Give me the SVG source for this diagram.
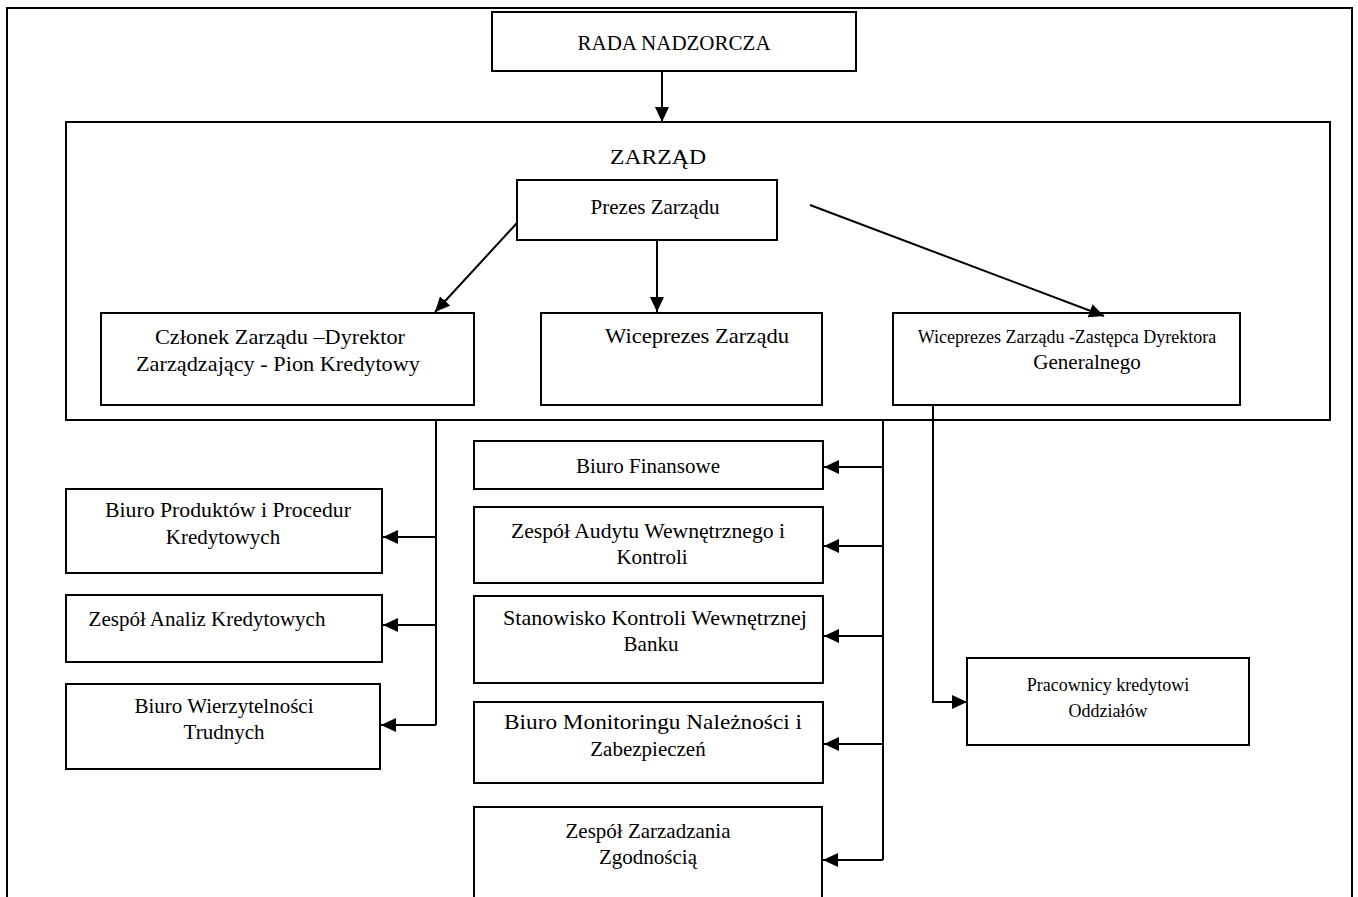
<svg xmlns="http://www.w3.org/2000/svg" width="1358" height="897" viewBox="0 0 1358 897">
<defs>
<marker id="ah" markerUnits="userSpaceOnUse" markerWidth="16" markerHeight="14" refX="15" refY="7" orient="auto">
<path d="M0,0 L15,7 L0,14 Z" fill="#000"/>
</marker>
<style>
.box{fill:#fff;stroke:#000;stroke-width:2}
.frame{fill:none;stroke:#000;stroke-width:2}
.t{font-family:"Liberation Serif","Times New Roman",serif;font-size:21px;fill:#000;text-anchor:middle}
.s{font-size:18px}
.c{fill:none;stroke:#000;stroke-width:2}
.a{fill:none;stroke:#000;stroke-width:2;marker-end:url(#ah)}
</style>
</defs>
<rect width="1358" height="897" fill="#fff"/>
<rect class="frame" x="7" y="8" width="1345" height="900"/>
<g id="zarzad">
<rect class="frame" x="66" y="122" width="1264" height="298"/>
<text class="t" x="658" y="164" textLength="96" lengthAdjust="spacingAndGlyphs">ZARZĄD</text>
</g>
<g id="rada">
<rect class="box" x="492" y="12" width="364" height="59"/>
<text class="t" x="674" y="50">RADA NADZORCZA</text>
</g>
<g id="prezes">
<rect class="box" x="517" y="180" width="260" height="60"/>
<text class="t" x="655" y="214">Prezes Zarządu</text>
</g>
<g id="czlonek">
<rect class="box" x="101" y="313" width="373" height="92"/>
<text class="t" x="280" y="344" textLength="250" lengthAdjust="spacingAndGlyphs">Członek Zarządu –Dyrektor</text>
<text class="t" x="278" y="371" textLength="284" lengthAdjust="spacingAndGlyphs">Zarządzający - Pion Kredytowy</text>
</g>
<g id="wiceprezes">
<rect class="box" x="541" y="313" width="281" height="92"/>
<text class="t" x="697" y="343" textLength="184" lengthAdjust="spacingAndGlyphs">Wiceprezes Zarządu</text>
</g>
<g id="wiceprezes-zastepca">
<rect class="box" x="893" y="313" width="347" height="92"/>
<text class="t s" x="1067" y="343">Wiceprezes Zarządu -Zastępca Dyrektora</text>
<text class="t" x="1087" y="369">Generalnego</text>
</g>
<g id="biuro-produktow">
<rect class="box" x="66" y="489" width="316" height="84"/>
<text class="t" x="228" y="517" textLength="246" lengthAdjust="spacingAndGlyphs">Biuro Produktów i Procedur</text>
<text class="t" x="223" y="544">Kredytowych</text>
</g>
<g id="zespol-analiz">
<rect class="box" x="66" y="595" width="316" height="67"/>
<text class="t" x="207" y="626">Zespół Analiz Kredytowych</text>
</g>
<g id="biuro-wierzytelnosci">
<rect class="box" x="66" y="684" width="314" height="85"/>
<text class="t" x="224" y="713">Biuro Wierzytelności</text>
<text class="t" x="224" y="739">Trudnych</text>
</g>
<g id="biuro-finansowe">
<rect class="box" x="474" y="441" width="349" height="48"/>
<text class="t" x="648" y="473">Biuro Finansowe</text>
</g>
<g id="zespol-audytu">
<rect class="box" x="474" y="507" width="349" height="76"/>
<text class="t" x="648" y="538" textLength="274" lengthAdjust="spacingAndGlyphs">Zespół Audytu Wewnętrznego i</text>
<text class="t" x="652" y="564">Kontroli</text>
</g>
<g id="stanowisko-kontroli">
<rect class="box" x="474" y="596" width="349" height="87"/>
<text class="t" x="655" y="625" textLength="304" lengthAdjust="spacingAndGlyphs">Stanowisko Kontroli Wewnętrznej</text>
<text class="t" x="651" y="651">Banku</text>
</g>
<g id="biuro-monitoringu">
<rect class="box" x="474" y="702" width="349" height="81"/>
<text class="t" x="653" y="729" textLength="298" lengthAdjust="spacingAndGlyphs">Biuro Monitoringu Należności i</text>
<text class="t" x="648" y="756">Zabezpieczeń</text>
</g>
<g id="zespol-zgodnosci">
<rect class="box" x="474" y="807" width="348" height="100"/>
<text class="t" x="648" y="838">Zespół Zarzadzania</text>
<text class="t" x="648" y="864">Zgodnością</text>
</g>
<g id="pracownicy">
<rect class="box" x="967" y="658" width="282" height="87"/>
<text class="t s" x="1108" y="691">Pracownicy kredytowi</text>
<text class="t s" x="1108" y="717">Oddziałów</text>
</g>
<g id="connectors">
<line class="a" x1="662" y1="71" x2="662" y2="122"/>
<line class="a" x1="517" y1="223" x2="435" y2="312"/>
<line class="a" x1="657" y1="240" x2="657" y2="312"/>
<line class="a" x1="810" y1="205" x2="1104" y2="316"/>
<polyline class="c" points="436,420 436,725"/>
<line class="a" x1="436" y1="537" x2="383" y2="537"/>
<line class="a" x1="436" y1="625" x2="383" y2="625"/>
<line class="a" x1="436" y1="725" x2="381" y2="725"/>
<polyline class="c" points="883,420 883,860"/>
<line class="a" x1="883" y1="467" x2="824" y2="467"/>
<line class="a" x1="883" y1="546" x2="824" y2="546"/>
<line class="a" x1="883" y1="636" x2="824" y2="636"/>
<line class="a" x1="883" y1="744" x2="824" y2="744"/>
<line class="a" x1="883" y1="860" x2="823" y2="860"/>
<polyline class="a" points="933,405 933,702 967,702"/>
</g>
</svg>
